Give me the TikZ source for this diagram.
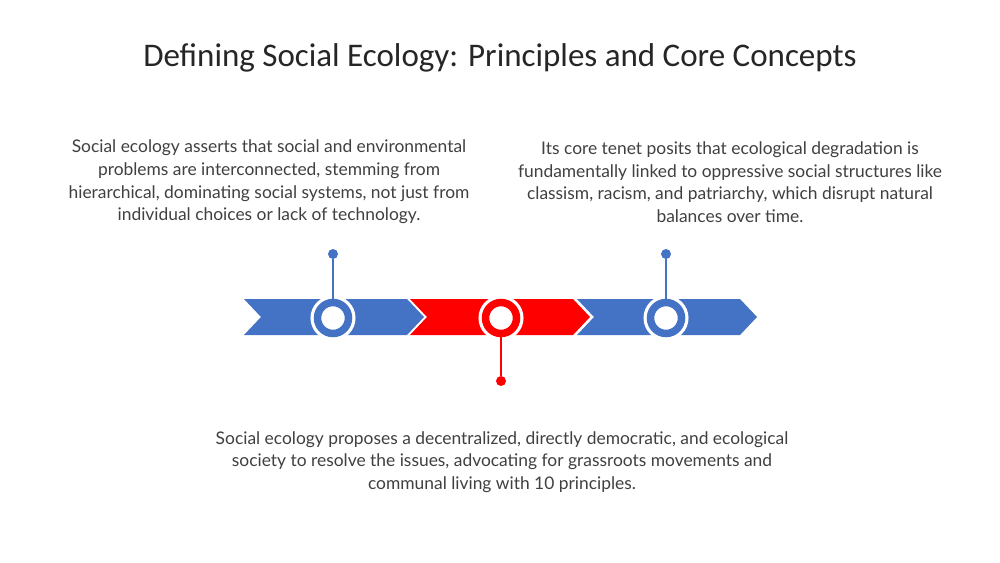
\documentclass[tikz,border=0pt]{standalone}
\usepackage{fontspec}
\setmainfont{Lato}
\newfontfamily\titlefont{Carlito}
\usetikzlibrary{calc}
\definecolor{tlblue}{HTML}{4472C4}
\definecolor{tlred}{HTML}{FF0000}
\definecolor{txtgray}{HTML}{404040}
\tikzset{
	ring/.style={circle, minimum size=31pt, inner sep=0pt, fill=white, draw=#1, line width=7.5pt,
		preaction={draw=white, line width=14pt}},
	pin/.style={circle, minimum size=10pt, inner sep=0pt, fill=#1},
	stem/.style={draw=#1, line width=1.8pt},
	body/.style={align=center, text=txtgray, font=\fontsize{17.4}{22.6}\selectfont}
}

\begin{document}
\begin{tikzpicture}[x=1pt, y=-1pt]
		%%%%% START %%%%%
		\useasboundingbox[fill=white] (0, 0) rectangle (1000, 562);
		
		\node[font=\titlefont\fontsize{33}{38}\selectfont, text=black!85] (title) at (500, 58) {Defining Social Ecology: Principles and Core Concepts};
		
		% chevrons
		\fill[tlblue] (244, 299) -- (407, 299) -- (424, 317) -- (407, 335) -- (244, 335) -- (261, 317) -- cycle;
		\fill[tlred] (410, 299) -- (573, 299) -- (590, 317) -- (573, 335) -- (410, 335) -- (427, 317) -- cycle;
		\fill[tlblue] (577, 299) -- (740, 299) -- (757, 317) -- (740, 335) -- (577, 335) -- (594, 317) -- cycle;
		
		% rings and pins
		\node[ring=tlblue] (r1) at (333, 318) {};
		\node[ring=tlred] (r2) at (501, 318) {};
		\node[ring=tlblue] (r3) at (666, 318) {};
		
		\node[pin=tlblue] (p1) at (333, 254) {};
		\node[pin=tlred] (p2) at (501, 381) {};
		\node[pin=tlblue] (p3) at (666, 254) {};
		
		\draw[stem=tlblue] (p1) -- (r1);
		\draw[stem=tlred] (r2) -- (p2);
		\draw[stem=tlblue] (p3) -- (r3);
		
		% texts
		\node[body] (t1) at (269, 182) {Social ecology asserts that social and environmental\\problems are interconnected, stemming from\\hierarchical, dominating social systems, not just from\\individual choices or lack of technology.};
		\node[body] (t3) at (730, 182) {Its core tenet posits that ecological degradation is\\fundamentally linked to oppressive social structures like\\classism, racism, and patriarchy, which disrupt natural\\balances over time.};
		\node[body] (t2) at (502, 462) {Social ecology proposes a decentralized, directly democratic, and ecological\\society to resolve the issues, advocating for grassroots movements and\\communal living with 10 principles.};
		
		%%%%% END %%%%%
\end{tikzpicture}
\end{document}
